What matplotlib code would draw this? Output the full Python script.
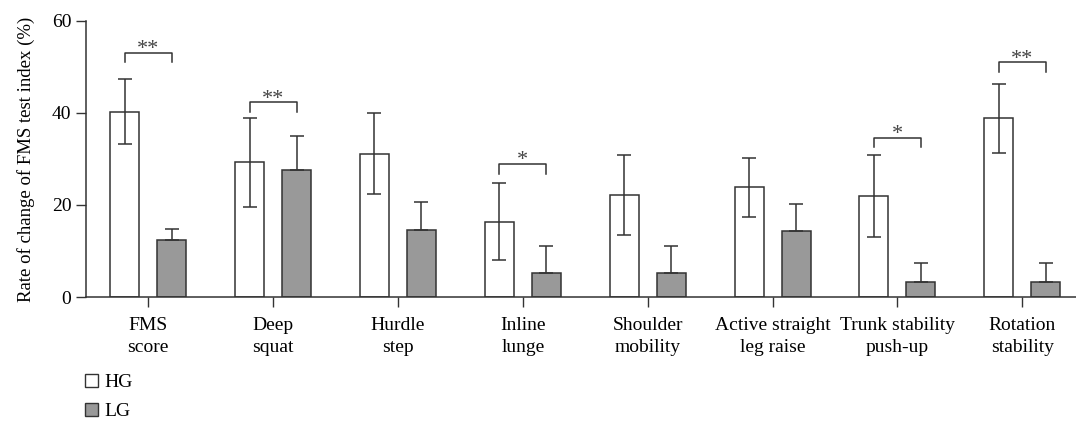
import numpy as np
import matplotlib.pyplot as plt
from matplotlib.patches import Patch

plt.rcParams['font.family'] = ['Liberation Serif', 'DejaVu Serif']

# data
labels = ['FMS\nscore', 'Deep\nsquat', 'Hurdle\nstep', 'Inline\nlunge', 'Shoulder\nmobility',
          'Active straight\nleg raise', 'Trunk stability\npush-up', 'Rotation\nstability']
hg = [40.3, 29.3, 31.1, 16.4, 22.2, 23.9, 21.9, 38.8]
hg_err = [7.1, 9.7, 8.8, 8.4, 8.7, 6.4, 8.9, 7.4]
lg = [12.3, 27.6, 14.6, 5.3, 5.3, 14.4, 3.3, 3.3]
lg_err = [2.4, 7.4, 6.0, 5.7, 5.8, 5.9, 4.0, 4.0]

# significance brackets: (group index, bracket height, label)
sig_idx = [0, 1, 3, 6, 7]
sig_y = [53.1, 42.3, 28.9, 34.6, 51.0]
sig_txt = ['**', '**', '*', '*', '**']

x = np.arange(len(labels))
w = 0.232
off = 0.188
ec = '#333333'
fs = 14

fig = plt.figure(figsize=(10.76, 4.25), dpi=100)
ax = fig.add_axes([0.08, 0.301, 0.92, 0.65])

ax.bar(x - off, hg, w, color='white', edgecolor=ec, linewidth=1.1, zorder=2)
ax.errorbar(x - off, hg, yerr=hg_err, fmt='none', ecolor=ec, elinewidth=1.1,
            capsize=5, capthick=1.1, zorder=3)
ax.bar(x + off, lg, w, color='#999999', edgecolor=ec, linewidth=1.1, zorder=2)
ax.errorbar(x + off, lg, yerr=[np.zeros(len(lg)), lg_err], fmt='none', ecolor=ec,
            elinewidth=1.1, capsize=5, capthick=1.1, zorder=3)

for i, y, t in zip(sig_idx, sig_y, sig_txt):
    ax.plot([i - off, i - off, i + off, i + off], [y - 2.1, y, y, y - 2.1],
            color=ec, lw=1.1)
    ax.text(i, y - 0.3, t, ha='center', va='baseline', fontsize=16, color='#444444')

ax.set_xlim(-0.497, 7.43)
ax.set_ylim(0, 60)
ax.set_yticks([0, 20, 40, 60])
ax.set_xticks(x)
ax.set_xticklabels(labels, fontsize=fs)
for lbl in ax.get_xticklabels():
    lbl.set_linespacing(1.45)
ax.tick_params(axis='y', labelsize=fs, direction='out', length=7, width=1, color=ec)
ax.tick_params(axis='x', direction='out', length=7, width=1, color=ec, pad=7)
ax.set_ylabel('Rate of change of FMS test index (%)', fontsize=13.5, labelpad=12)
for s in ['top', 'right']:
    ax.spines[s].set_visible(False)
for s in ['left', 'bottom']:
    ax.spines[s].set_color(ec)
    ax.spines[s].set_linewidth(1.1)

handles = [Patch(facecolor='white', edgecolor=ec, label='HG'),
           Patch(facecolor='#999999', edgecolor=ec, label='LG')]
fig.legend(handles=handles, loc='lower left', bbox_to_anchor=(0.063, -0.03),
           frameon=False, fontsize=fs, handlelength=0.65, handleheight=0.65,
           handletextpad=0.35, labelspacing=0.6)

fig.savefig('out.png', dpi=100)
